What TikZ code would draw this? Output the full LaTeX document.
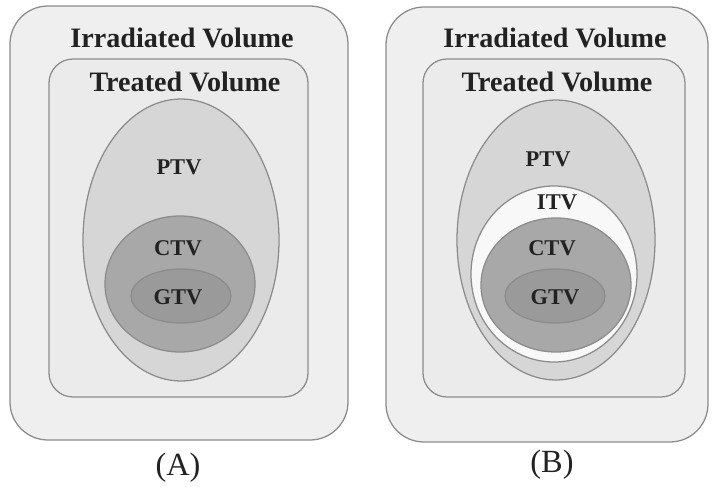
\documentclass[tikz,border=0pt]{standalone}
\usepackage{fontspec}
\setmainfont{Liberation Serif}
\usetikzlibrary{shapes.geometric}

\definecolor{edgegray}{HTML}{8C8C8C}
\definecolor{irradfill}{HTML}{EFEFEF}
\definecolor{treatfill}{HTML}{EBEBEB}
\definecolor{ptvfill}{HTML}{D6D6D6}
\definecolor{itvfill}{HTML}{F8F8F8}
\definecolor{ctvfill}{HTML}{A8A8A8}
\definecolor{gtvfill}{HTML}{9A9A9A}
\definecolor{inkgray}{HTML}{222222}

\begin{document}
\begin{tikzpicture}[x=0.025cm,y=-0.025cm]
	\tikzset{zone/.style={draw=edgegray,line width=0.9pt}}
	\tikzset{voltitle/.style={text=inkgray,inner sep=0pt,font=\bfseries\fontsize{20}{24}\selectfont}}
	\tikzset{voltag/.style={text=inkgray,inner sep=0pt,font=\bfseries\fontsize{16}{19}\selectfont}}
	\tikzset{panelcap/.style={text=inkgray,inner sep=0pt,font=\fontsize{23}{27}\selectfont}}
	\useasboundingbox[fill=white] (0,0) rectangle (712,487);

	% (A) without internal margin
	\filldraw[zone,fill=irradfill,rounded corners=0.95cm] (10,6) rectangle (348,440);
	\filldraw[zone,fill=treatfill,rounded corners=0.6cm] (49,59) rectangle (308,397);
	\filldraw[zone,fill=ptvfill] (181,240) ellipse [x radius=98,y radius=141];
	\filldraw[zone,fill=ctvfill] (180,284) ellipse [x radius=75,y radius=68];
	\filldraw[zone,fill=gtvfill] (181,296) ellipse [x radius=50,y radius=27];
	\node[voltitle] (irrA) at (182,38) {Irradiated Volume};
	\node[voltitle] (treatA) at (185,82) {Treated Volume};
	\node[voltag] (ptvA) at (179,167) {PTV};
	\node[voltag] (ctvA) at (178,248) {CTV};
	\node[voltag] (gtvA) at (178,297) {GTV};
	\node[panelcap] (capA) at (178,468) {(A)};

	% (B) with internal target volume
	\filldraw[zone,fill=irradfill,rounded corners=0.95cm] (386,7) rectangle (708,442);
	\filldraw[zone,fill=treatfill,rounded corners=0.6cm] (423,59) rectangle (685,397);
	\filldraw[zone,fill=ptvfill] (556,240) ellipse [x radius=99,y radius=140];
	\filldraw[zone,fill=itvfill] (554,274) ellipse [x radius=83,y radius=88];
	\filldraw[zone,fill=ctvfill] (556,285) ellipse [x radius=75,y radius=67];
	\filldraw[zone,fill=gtvfill] (555,296) ellipse [x radius=50,y radius=27];
	\node[voltitle] (irrB) at (555,38) {Irradiated Volume};
	\node[voltitle] (treatB) at (557,82) {Treated Volume};
	\node[voltag] (ptvB) at (548,159) {PTV};
	\node[voltag] (itvB) at (557,202) {ITV};
	\node[voltag] (ctvB) at (552,248) {CTV};
	\node[voltag] (gtvB) at (555,297) {GTV};
	\node[panelcap] (capB) at (552,465) {(B)};
\end{tikzpicture}
\end{document}
